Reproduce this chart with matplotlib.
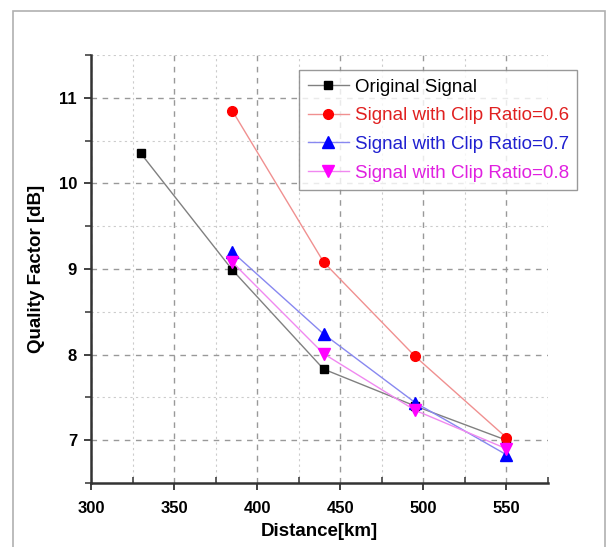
import matplotlib
matplotlib.use("Agg")
import matplotlib.pyplot as plt
from matplotlib.patches import Rectangle
from matplotlib.ticker import MultipleLocator

plt.rcParams['font.family'] = ['Liberation Sans', 'DejaVu Sans']

# Data
dist_orig = [330, 385, 440, 495, 550]
q_orig = [10.35, 8.99, 7.83, 7.40, 7.00]

dist_clip = [385, 440, 495, 550]
q_clip06 = [10.85, 9.08, 7.98, 7.03]
q_clip07 = [9.20, 8.24, 7.44, 6.83]
q_clip08 = [9.08, 8.01, 7.35, 6.90]

labels = ["Original Signal",
          "Signal with Clip Ratio=0.6",
          "Signal with Clip Ratio=0.7",
          "Signal with Clip Ratio=0.8"]

fig = plt.figure(figsize=(6.14, 5.47), dpi=100)
# outer light frame
fig.patches.append(Rectangle((13 / 614, -0.05), (605 - 13) / 614, 1.05 - 11 / 547,
                             transform=fig.transFigure, fill=False,
                             edgecolor="#b0b0b0", linewidth=1.2))

ax = fig.add_axes([91 / 614, 1 - 483 / 547, (548 - 91) / 614, (483 - 55) / 547])

ax.plot(dist_orig, q_orig, color="#808080", lw=1, marker="s", ms=6,
        mfc="black", mec="black", label=labels[0])
ax.plot(dist_clip, q_clip06, color="#f09090", lw=1, marker="o", ms=7,
        mfc="red", mec="red", label=labels[1])
ax.plot(dist_clip, q_clip07, color="#8888f0", lw=1, marker="^", ms=8,
        mfc="blue", mec="blue", label=labels[2])
ax.plot(dist_clip, q_clip08, color="#f088f0", lw=1, marker="v", ms=8,
        mfc="magenta", mec="magenta", label=labels[3])

ax.set_xlim(300, 575)
ax.set_ylim(6.5, 11.5)
ax.xaxis.set_major_locator(MultipleLocator(50))
ax.xaxis.set_minor_locator(MultipleLocator(25))
ax.yaxis.set_major_locator(MultipleLocator(1))
ax.yaxis.set_minor_locator(MultipleLocator(0.5))

ax.grid(which="major", color="#999999", linestyle=(0, (4, 4)), lw=1)
ax.grid(which="minor", color="#cccccc", linestyle=(0, (2, 3)), lw=0.8)
ax.set_axisbelow(True)

for s in ["top", "right"]:
    ax.spines[s].set_visible(False)
for s in ["left", "bottom"]:
    ax.spines[s].set_linewidth(1.8)
    ax.spines[s].set_color("#333333")

ax.tick_params(which="major", direction="out", length=5, width=1.3,
               labelsize=12, color="#333333")
ax.tick_params(axis="x", which="major", pad=8)
ax.tick_params(axis="y", which="major", pad=5)
ax.tick_params(axis="x", which="minor", direction="in", length=4, width=1.1, color="#333333")
ax.tick_params(axis="y", which="minor", direction="out", length=4, width=1.1, color="#333333")
for t in ax.get_xticklabels() + ax.get_yticklabels():
    t.set_fontweight("bold")

ax.set_xlabel("Distance[km]", fontsize=13.5, fontweight="bold", labelpad=5)
ax.set_ylabel("Quality Factor [dB]", fontsize=13.5, fontweight="bold", labelpad=10)

leg = ax.legend(loc="upper right", bbox_to_anchor=(1.064, 0.965), fontsize=13.5,
                frameon=True, fancybox=False, edgecolor="#808080",
                handlelength=2.2, handletextpad=0.3, borderpad=0.45,
                labelspacing=0.62, borderaxespad=0)
leg.get_frame().set_linewidth(1.0)
for txt, c in zip(leg.get_texts(), ["black", "#e02020", "#2020d0", "#e020e0"]):
    txt.set_color(c)

fig.savefig("out.png", dpi=100)
